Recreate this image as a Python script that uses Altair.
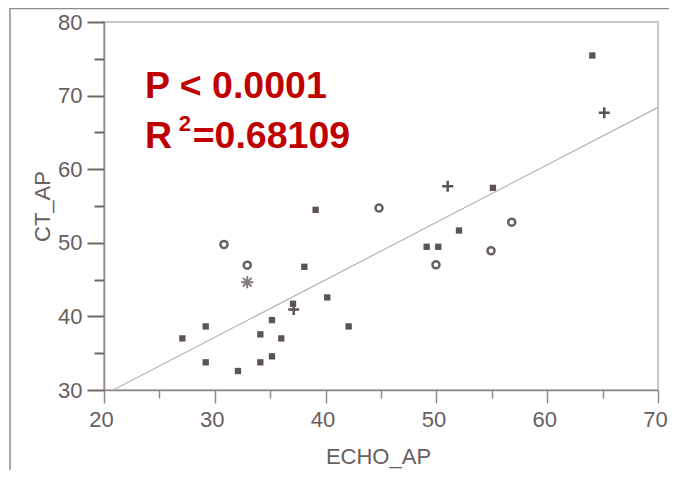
import altair as alt
import pandas as pd

# ---- data ----
sq_x = [27.07, 29.18, 29.18, 32.09, 34.11, 34.11, 35.16, 35.16, 36.0, 37.06,
        38.08, 39.1, 40.15, 42.08, 49.12, 50.17, 52.04, 55.1, 64.07]
sq_y = [37.01, 38.64, 33.76, 32.58, 37.56, 33.76, 39.5, 34.57, 37.01, 41.72,
        46.74, 54.48, 42.58, 38.64, 49.46, 49.46, 51.67, 57.46, 75.45]

circ_x = [30.83, 32.93, 44.82, 49.96, 54.93, 56.8]
circ_y = [49.77, 46.96, 54.72, 47.01, 48.92, 52.8]

cross_x = [37.12, 51.02, 65.15]
cross_y = [40.95, 57.68, 67.68]

ast_x = [32.93]
ast_y = [44.65]

fit_x = [20.83, 70.0]
fit_y = [30.0, 68.4]

x_major = [20, 30, 40, 50, 60, 70]
x_minor = [25, 35, 45, 55, 65]
y_major = [30, 40, 50, 60, 70, 80]
y_minor = [35, 45, 55, 65, 75]

ann_big_text = ["P < 0.0001", "R", "=0.68109"]
ann_big_x = [23.7, 23.7, 28.0]
ann_big_y = [69.67, 62.89, 62.89]
ann_sup_text = ["2"]
ann_sup_x = [26.75]
ann_sup_y = [65.2]

# ---- styling ----
FONT = "Liberation Sans"
TXT = "#676061"
DOM = "#918989"
XS = alt.Scale(domain=[20, 70], nice=False, zero=False)
YS = alt.Scale(domain=[30, 80], nice=False, zero=False)

sq = pd.DataFrame({"x": sq_x, "y": sq_y})
ci = pd.DataFrame({"x": circ_x, "y": circ_y})
cr = pd.DataFrame({"x": cross_x, "y": cross_y})
ast = pd.DataFrame({"x": ast_x, "y": ast_y})
fit = pd.DataFrame({"x": fit_x, "y": fit_y})
big = pd.DataFrame({"x": ann_big_x, "y": ann_big_y, "t": ann_big_text})
sup = pd.DataFrame({"x": ann_sup_x, "y": ann_sup_y, "t": ann_sup_text})

x_main_axis = alt.Axis(values=x_major, tickSize=13, tickColor=DOM, tickWidth=1.5,
                       domainColor=DOM, domainWidth=1.5, labelFont=FONT,
                       labelFontSize=22, labelColor=TXT, labelPadding=6,
                       labelOffset=-3,
                       labelFlush=False, labelOverlap=False,
                       grid=False, title="ECHO_AP", titleFont=FONT,
                       titleFontSize=22, titleFontWeight="normal", titleColor=TXT,
                       titleX=274, titleY=73, titleBaseline="alphabetic",
                       titleAlign="center")
y_main_axis = alt.Axis(values=y_major, tickSize=17, tickColor="#6e6667", tickWidth=2,
                       domainColor=DOM, domainWidth=1.5, labelFont=FONT,
                       labelFontSize=22, labelColor=TXT, labelPadding=5,
                       labelFlush=False, labelOverlap=False,
                       grid=False, title="CT_AP", titleFont=FONT,
                       titleFontSize=22, titleFontWeight="normal", titleColor=TXT,
                       titleX=-55, titleY=184, titleAngle=270,
                       titleBaseline="alphabetic", titleAlign="center")
x_minor_axis = alt.Axis(values=x_minor, tickSize=8, tickColor=DOM, tickWidth=1.5,
                        domain=False, labels=False, grid=False, title=None,
                        orient="bottom")
y_minor_axis = alt.Axis(values=y_minor, tickSize=10, tickColor="#6e6667", tickWidth=2,
                        domain=False, labels=False, grid=False, title=None,
                        orient="left")

squares = alt.Chart(sq).mark_point(shape="square", filled=True, size=40,
                                   color="#5d5254", opacity=1).encode(
    x=alt.X("x:Q", scale=XS, axis=x_main_axis),
    y=alt.Y("y:Q", scale=YS, axis=y_main_axis),
)

line = alt.Chart(fit).mark_line(color="#b8b3b3", strokeWidth=1.2).encode(
    x=alt.X("x:Q", scale=XS, axis=x_minor_axis),
    y=alt.Y("y:Q", scale=YS, axis=y_minor_axis),
)

circles = alt.Chart(ci).mark_point(shape="circle", filled=False, size=50,
                                   stroke="#6a6062", strokeWidth=2.5, opacity=1).encode(
    x=alt.X("x:Q", scale=XS, axis=None),
    y=alt.Y("y:Q", scale=YS, axis=None),
)

crosses = alt.Chart(cr).mark_point(shape="M-1,0L1,0M0,-1L0,1", filled=False,
                                   size=121, stroke="#5d5254", strokeWidth=2.5,
                                   opacity=1).encode(
    x=alt.X("x:Q", scale=XS, axis=None),
    y=alt.Y("y:Q", scale=YS, axis=None),
)

asterisk = alt.Chart(ast).mark_point(
    shape="M0,-1L0,1M-1,0L1,0M-0.7,-0.7L0.7,0.7M-0.7,0.7L0.7,-0.7",
    filled=False, size=150, stroke="#857b7d", strokeWidth=2, opacity=1).encode(
    x=alt.X("x:Q", scale=XS, axis=None),
    y=alt.Y("y:Q", scale=YS, axis=None),
)

big_text = alt.Chart(big).mark_text(align="left", baseline="alphabetic", font=FONT,
                                    fontWeight="bold", fontSize=37.5,
                                    color="#c00000").encode(
    x=alt.X("x:Q", scale=XS, axis=None),
    y=alt.Y("y:Q", scale=YS, axis=None),
    text="t:N",
)

sup_text = alt.Chart(sup).mark_text(align="left", baseline="alphabetic", font=FONT,
                                    fontWeight="bold", fontSize=22,
                                    color="#c00000").encode(
    x=alt.X("x:Q", scale=XS, axis=None),
    y=alt.Y("y:Q", scale=YS, axis=None),
    text="t:N",
)

# decorative outer panel border
left_border = alt.Chart(pd.DataFrame({"a": [0]})).mark_rule(
    color="#8c8c8c", strokeWidth=1.5).encode(
    x=alt.value(-94), y=alt.value(-14), y2=alt.value(448))
top_border = alt.Chart(pd.DataFrame({"a": [0]})).mark_rule(
    color="#8c8c8c", strokeWidth=1.5).encode(
    x=alt.value(-94), x2=alt.value(565), y=alt.value(-13.5))

chart = alt.layer(
    squares, line, circles, crosses, asterisk, big_text, sup_text,
    left_border, top_border
).resolve_axis(x="independent", y="independent").properties(
    width=554, height=368,
    autosize=alt.AutoSizeParams(type="none"),
    padding={"left": 96, "top": 14, "right": 11, "bottom": 80},
    background="white",
).configure_view(stroke="#c9c5c5", strokeWidth=2)

chart.save("out.html", embed_options={"renderer": "svg", "actions": False})
